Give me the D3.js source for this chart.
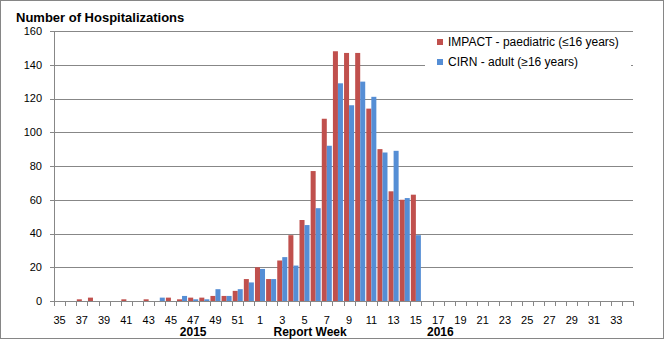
<!DOCTYPE html>
<html>
<head>
<meta charset="utf-8">
<script src="https://cdn.jsdelivr.net/npm/d3@7"></script>
<style>
  body { margin: 0; background: #fff; }
  svg text { font-family: "Liberation Sans", Arial, sans-serif; }
</style>
</head>
<body>
<div id="chart"></div>
<script>
// Report weeks: 2015 weeks 35-52, then 2016 weeks 1-34
const weeks2015 = d3.range(35, 53);
const weeks2016 = d3.range(1, 35);
const weeks = weeks2015.concat(weeks2016);

// IMPACT - paediatric, one value per week
const impact = [0, 0, 1, 2, 0, 0, 1, 0, 1, 0, 2, 1, 2, 2, 3, 3, 6, 13,
    20, 13, 24, 39, 48, 77, 108, 148, 147, 147, 114, 90, 65, 60, 63,
    0, 0, 0, 0, 0, 0, 0, 0, 0, 0, 0, 0, 0, 0, 0, 0, 0, 0, 0];

// CIRN - adult, one value per week
const cirn = [0, 0, 0, 0, 0, 0, 0, 0, 0, 2, 0, 3, 1, 1, 7, 3, 7, 11,
    19, 13, 26, 21, 45, 55, 92, 129, 116, 130, 121, 88, 89, 61, 39,
    0, 0, 0, 0, 0, 0, 0, 0, 0, 0, 0, 0, 0, 0, 0, 0, 0, 0, 0];

const seriesNames = ["IMPACT - paediatric (\u226416 years)", "CIRN - adult (\u226516 years)"];
const seriesColors = ["#C0504D", "#558ED5"];
const yTicks = [0, 20, 40, 60, 80, 100, 120, 140, 160];

const width = 666, height = 341;
const margin = { top: 31, right: 33, bottom: 40, left: 54 };

const svg = d3.select("#chart")
    .append("svg")
    .attr("width", width)
    .attr("height", height);

// outer chart border
svg.append("rect")
    .attr("x", 0.5).attr("y", 0.5)
    .attr("width", 663).attr("height", 338)
    .attr("fill", "none")
    .attr("stroke", "#868686");

const x = d3.scaleBand()
    .domain(d3.range(weeks.length))
    .range([margin.left, width - margin.right]);

const xInner = d3.scaleBand()
    .domain([0, 1])
    .range([0.55, x.bandwidth() - 0.55]);

const y = d3.scaleLinear()
    .domain([0, 160])
    .range([height - margin.bottom, margin.top]);

// gridlines with outward tick
svg.append("g")
    .selectAll("line")
    .data(yTicks.slice(1))
    .join("line")
    .attr("x1", margin.left - 4)
    .attr("x2", width - margin.right)
    .attr("y1", d => Math.round(y(d)) + 0.5)
    .attr("y2", d => Math.round(y(d)) + 0.5)
    .attr("stroke", "#878787");

// y labels
svg.append("g")
    .selectAll("text")
    .data(yTicks)
    .join("text")
    .attr("x", margin.left - 12)
    .attr("y", d => y(d))
    .attr("dy", "0.35em")
    .attr("text-anchor", "end")
    .attr("font-size", "11px")
    .attr("fill", "#000")
    .text(d => d);

// bars
const series = [impact, cirn];
series.forEach((vals, s) => {
    svg.append("g")
        .selectAll("rect")
        .data(vals)
        .join("rect")
        .attr("x", (d, i) => x(i) + xInner(s))
        .attr("width", xInner.bandwidth())
        .attr("y", d => y(d))
        .attr("height", d => y(0) - y(d))
        .attr("fill", seriesColors[s]);
});

// y axis line
svg.append("line")
    .attr("x1", margin.left + 0.5).attr("x2", margin.left + 0.5)
    .attr("y1", y(160)).attr("y2", y(0))
    .attr("stroke", "#878787");

// x axis line + ticks at category boundaries
const xb = y(0);
svg.append("line")
    .attr("x1", margin.left - 4).attr("x2", width - margin.right)
    .attr("y1", Math.round(xb) + 0.5).attr("y2", Math.round(xb) + 0.5)
    .attr("stroke", "#878787");

svg.append("g")
    .selectAll("line")
    .data(d3.range(weeks.length + 1))
    .join("line")
    .attr("x1", i => Math.round(margin.left + i * x.step()) + 0.5)
    .attr("x2", i => Math.round(margin.left + i * x.step()) + 0.5)
    .attr("y1", xb)
    .attr("y2", xb + 5)
    .attr("stroke", "#878787");

// week labels every other week
svg.append("g")
    .selectAll("text")
    .data(weeks.map((w, i) => ({ w, i })).filter(d => d.i % 2 === 0))
    .join("text")
    .attr("x", d => x(d.i) + x.bandwidth() / 2)
    .attr("y", 324)
    .attr("text-anchor", "middle")
    .attr("font-size", "11px")
    .attr("fill", "#000")
    .text(d => d.w);

// bold axis captions
const captions = [
    { t: "2015", at: 12.5 },
    { t: "Report Week", at: 23 },
    { t: "2016", at: 34.7 }
];
svg.append("g")
    .selectAll("text")
    .data(captions)
    .join("text")
    .attr("x", d => margin.left + d.at * x.step())
    .attr("y", 336)
    .attr("text-anchor", "middle")
    .attr("font-size", "12px")
    .attr("font-weight", "bold")
    .attr("fill", "#000")
    .text(d => d.t);

// title
svg.append("text")
    .attr("x", 16)
    .attr("y", 22)
    .attr("font-size", "13px")
    .attr("font-weight", "bold")
    .attr("fill", "#000")
    .text("Number of Hospitalizations");

// legend with white background
const legend = svg.append("g");
legend.append("rect")
    .attr("x", 425).attr("y", 34)
    .attr("width", 206).attr("height", 38)
    .attr("fill", "#fff");

seriesNames.forEach((name, i) => {
    const ly = 42 + i * 20;
    legend.append("rect")
        .attr("x", 437).attr("y", ly - 3)
        .attr("width", 6).attr("height", 6)
        .attr("fill", seriesColors[i]);
    legend.append("text")
        .attr("x", 448)
        .attr("y", ly)
        .attr("dy", "0.35em")
        .attr("font-size", "12px")
        .attr("fill", "#000")
        .text(name);
});
</script>
</body>
</html>
